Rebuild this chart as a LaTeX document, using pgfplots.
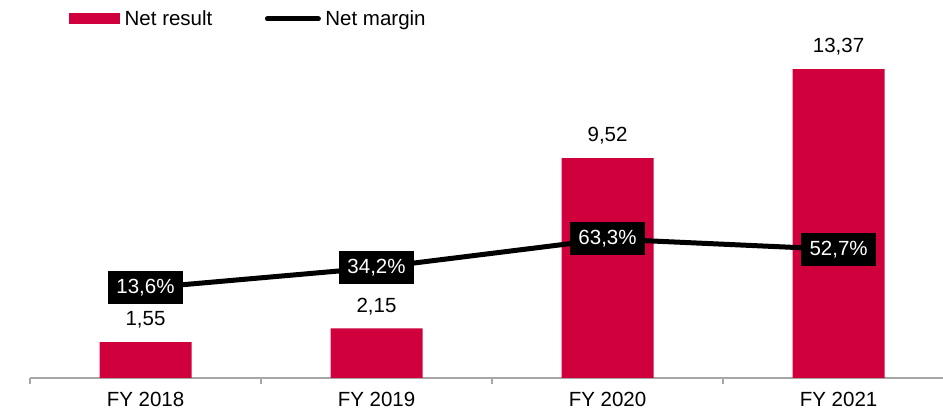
\documentclass[border=0pt]{standalone}
\usepackage{pgfplots}
\pgfplotsset{compat=1.18}
\usepackage{fontspec}
\setmainfont{Liberation Sans}
\definecolor{barred}{RGB}{207,0,60}
\definecolor{axgray}{RGB}{166,166,166}
\newcommand{\chartfont}{\fontsize{20.5}{24}\selectfont}

\begin{document}
\begin{tikzpicture}[x=1pt,y=1pt]
\useasboundingbox (0,0) rectangle (943,415);
% bars: net result
\begin{axis}[
    at={(30pt,37pt)}, anchor=south west,
    scale only axis, width=913pt, height=378pt,
    xmin=-0.5, xmax=3.452, ymin=0, ymax=16.36,
    axis x line=bottom, axis y line=none,
    axis line style={draw=axgray, line width=1.5pt, -},
    xtick={0,1,2,3},
    xticklabels={FY 2018,FY 2019,FY 2020,FY 2021},
    major tick length=0pt,
    minor xtick={-0.5,0.5,1.5,2.5},
    minor tick length=6pt, tick align=outside,
    minor tick style={draw=axgray, line width=1.5pt},
    ytick=\empty,
    xticklabel style={font=\chartfont, text=black, anchor=north, yshift=-11pt},
    clip=false,
    legend style={draw=none, fill=none, inner sep=0pt,
        at={(rel axis cs:0.0427,0.950)}, anchor=west, font=\chartfont,
        nodes={inner xsep=4.5pt},
        /tikz/every even column/.append style={column sep=48pt}},
    legend columns=2,
]
\addplot[ybar, bar width=92pt, bar shift=0pt, fill=barred, draw=none,
    nodes near coords, point meta=explicit symbolic,
    every node near coord/.append style={anchor=center, yshift=22pt, font=\chartfont, text=black},
    legend image code/.code={\fill[barred] (0pt,-5.5pt) rectangle (51pt,5.5pt);}]
    coordinates {(0,1.55) [1,55] (1,2.15) [2,15] (2,9.52) [9,52] (3,13.37) [13,37]};
\addlegendentry{Net result}
\addlegendimage{legend image code/.code={\draw[black, line width=5pt, line cap=round] (2.5pt,0pt) -- (53.5pt,0pt);}}
\addlegendentry{Net margin}
\end{axis}
% line: net margin
\begin{axis}[
    at={(30pt,37pt)}, anchor=south west,
    scale only axis, width=913pt, height=378pt,
    xmin=-0.5, xmax=3.452, ymin=-77.7, ymax=305.7,
    hide axis, clip=false,
]
\addplot[black, line width=5pt, mark=none,
    nodes near coords, point meta=explicit symbolic,
    every node near coord/.append style={anchor=center, fill=black, text=white,
        inner xsep=8.5pt, inner ysep=0pt, minimum height=33pt, font=\chartfont}]
    coordinates {(0,13.6) [13,6\%] (1,34.2) [34,2\%] (2,63.3) [63,3\%] (3,52.7) [52,7\%]};
\end{axis}
\end{tikzpicture}
\end{document}
